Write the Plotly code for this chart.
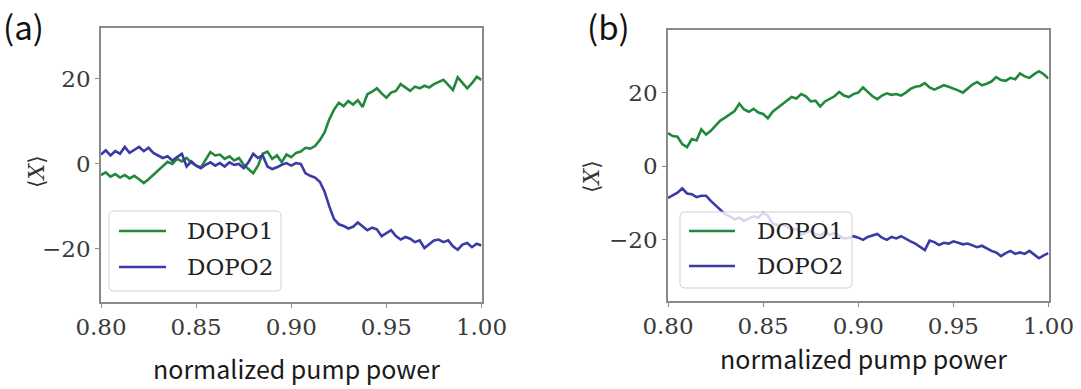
import numpy as np
import plotly.graph_objects as go

# normalized pump power grid shared by all traces
pump = np.round(0.8 + 0.0025 * np.arange(81), 4)

# panel (a): mean quadrature <X> of each DOPO
a_dopo1 = [
    -2.6, -2.0, -3.0, -2.4, -3.2, -2.6, -3.4, -2.8, -3.6, -4.5,
    -3.6, -2.6, -1.6, -0.6, 0.5, 0.0, 1.2, 0.6, 1.4, 0.3,
    -0.4, -0.8, 1.0, 2.8, 2.0, 2.2, 1.2, 1.8, 0.8, 1.4,
    -0.2, -1.2, -2.2, -0.4, 2.4, 2.9, 1.2, 2.0, 0.4, 2.2,
    1.6, 2.6, 2.9, 3.8, 3.6, 4.2, 5.6, 7.4, 10.5, 12.8,
    14.4, 13.6, 14.8, 14.0, 15.0, 13.4, 16.4, 17.0, 17.8, 16.6,
    15.6, 16.8, 17.2, 18.8, 18.0, 17.2, 18.2, 17.8, 18.4, 18.0,
    18.8, 19.4, 19.8, 18.6, 17.4, 20.4, 19.2, 17.8, 19.0, 20.5,
    19.8,
]
a_dopo2 = [
    2.2, 3.2, 2.0, 3.0, 2.4, 4.0, 2.6, 3.4, 4.0, 3.0,
    3.8, 2.6, 2.0, 1.4, 1.8, 0.8, 1.6, 2.4, -0.6, 0.6,
    -0.4, -1.0, -0.2, 0.4, -0.4, 0.2, -0.6, 0.4, -0.2, 0.0,
    -1.0, 0.4, 2.4, 1.4, 2.0, -0.6, -1.2, -0.8, -0.2, 0.2,
    -0.4, 0.2, 0.0, -2.2, -2.8, -3.2, -4.2, -6.5, -10.0, -13.0,
    -14.2, -14.6, -15.2, -14.8, -13.8, -14.6, -15.6, -15.0, -15.4, -17.0,
    -16.2, -15.6, -17.0, -17.8, -17.2, -17.6, -18.4, -18.0, -19.8, -18.8,
    -18.0, -17.8, -18.4, -18.0, -19.4, -20.2, -19.0, -18.6, -19.6, -18.8,
    -19.2,
]

# panel (b)
b_dopo1 = [
    9.0, 8.2, 8.0, 6.0, 5.2, 7.4, 7.0, 10.0, 8.6, 9.6,
    11.0, 12.4, 13.2, 14.2, 15.0, 17.0, 15.4, 14.8, 15.6, 14.6,
    14.2, 13.0, 14.8, 15.8, 16.8, 17.6, 18.8, 18.4, 19.6, 19.0,
    17.6, 17.8, 16.2, 17.6, 18.4, 19.0, 20.2, 19.2, 18.8, 19.6,
    20.0, 21.4, 20.2, 19.0, 18.2, 19.2, 19.8, 19.4, 19.6, 19.2,
    20.0, 21.0, 21.6, 21.8, 22.6, 21.4, 20.8, 21.4, 22.0, 21.6,
    21.2, 20.6, 20.0, 21.0, 22.2, 22.9, 22.0, 22.4, 23.0, 24.2,
    23.4, 23.2, 24.0, 23.6, 25.2, 24.4, 24.0, 25.0, 25.8, 25.0,
    23.8,
]
b_dopo2 = [
    -8.6, -7.8, -7.2, -6.0, -7.4, -7.6, -8.4, -8.0, -8.0, -9.4,
    -10.6, -12.0, -13.0, -13.6, -14.4, -14.0, -14.8, -14.2, -13.6, -14.0,
    -12.6, -13.4, -15.6, -16.0, -15.8, -16.4, -17.2, -17.0, -18.6, -18.0,
    -17.6, -18.4, -18.8, -18.0, -18.6, -18.2, -19.0, -19.6, -19.4, -19.0,
    -19.4, -20.0, -19.2, -18.8, -18.4, -19.4, -20.0, -19.2, -19.6, -19.0,
    -19.8, -20.4, -21.0, -22.0, -22.8, -20.2, -20.6, -21.4, -20.8, -21.0,
    -20.4, -20.8, -21.2, -21.0, -21.6, -22.0, -21.6, -22.4, -23.0, -23.4,
    -24.4, -23.6, -23.0, -23.8, -23.4, -23.8, -23.0, -24.0, -25.0, -24.2,
    -23.6,
]

series_names = ["DOPO1", "DOPO2"]
x_ticks = [0.80, 0.85, 0.90, 0.95, 1.00]
y_ticks = [-20, 0, 20]

GREEN = "#22893c"
BLUE = "#3c3aa6"
SPINE = "#8a8a8a"
W, H = 1081, 389


def px(x):
    return x / W


def py(y):
    return 1 - y / H


fig = go.Figure()
for xa, ya, s1, s2 in [("x", "y", a_dopo1, a_dopo2), ("x2", "y2", b_dopo1, b_dopo2)]:
    fig.add_trace(go.Scatter(x=pump, y=s1, xaxis=xa, yaxis=ya, mode="lines",
                             name=series_names[0], showlegend=False,
                             line=dict(color=GREEN, width=2.6)))
    fig.add_trace(go.Scatter(x=pump, y=s2, xaxis=xa, yaxis=ya, mode="lines",
                             name=series_names[1], showlegend=False,
                             line=dict(color=BLUE, width=2.6)))

tick_font = dict(family="DejaVu Serif", size=23, color="#3a3a3a")
common_x = dict(range=[0.8, 1.0], tickvals=x_ticks, tickformat=".2f", automargin=False,
                showline=True, mirror=True, linecolor=SPINE, linewidth=1.5,
                ticks="outside", ticklen=4, tickwidth=1.2, tickcolor=SPINE,
                showgrid=False, zeroline=False, tickfont=tick_font)
common_y = dict(tickvals=y_ticks, automargin=False,
                showline=True, mirror=True, linecolor=SPINE, linewidth=1.5,
                ticks="outside", ticklen=4, tickwidth=1.2, tickcolor=SPINE,
                showgrid=False, zeroline=False, tickfont=tick_font)

fig.update_layout(
    width=W, height=H,
    margin=dict(l=0, r=0, t=0, b=0),
    paper_bgcolor="white", plot_bgcolor="white",
    xaxis=dict(domain=[px(101), px(481.5)], anchor="y", **common_x),
    yaxis=dict(domain=[py(302), py(28)], anchor="x", range=[-32.5, 32.0], **common_y),
    xaxis2=dict(domain=[px(668), px(1048.5)], anchor="y2", **common_x),
    yaxis2=dict(domain=[py(301), py(30)], anchor="x2", range=[-36.6, 37.0], **common_y),
)

sans = "Noto Sans CJK KR"
annotations = [
    dict(text="(a)", x=px(1), y=1.0, xanchor="left", yanchor="top",
         font=dict(family=sans, size=33, color="#111111")),
    dict(text="(b)", x=px(585), y=1.0, xanchor="left", yanchor="top",
         font=dict(family=sans, size=33, color="#111111")),
    dict(text="normalized pump power", x=px(296), y=py(368), xanchor="center", yanchor="middle",
         font=dict(family=sans, size=25, color="#1a1a1a")),
    dict(text="normalized pump power", x=px(863), y=py(358), xanchor="center", yanchor="middle",
         font=dict(family=sans, size=25, color="#1a1a1a")),
    dict(text="⟨<i>X</i>⟩", x=px(37), y=py(172), xanchor="center", yanchor="middle", textangle=-90,
         font=dict(family="DejaVu Serif", size=22, color="#333333")),
    dict(text="⟨<i>X</i>⟩", x=px(592), y=py(177), xanchor="center", yanchor="middle", textangle=-90,
         font=dict(family="DejaVu Serif", size=22, color="#333333")),
]

shapes = []


def rounded_box(x0, y0, x1, y1, r=5):
    # rounded rectangle path in paper coordinates, from pixel corners
    rx, ry = r / W, r / H
    X0, X1 = px(x0), px(x1)
    Y0, Y1 = py(y1), py(y0)
    return (f"M{X0 + rx},{Y0} L{X1 - rx},{Y0} Q{X1},{Y0} {X1},{Y0 + ry} "
            f"L{X1},{Y1 - ry} Q{X1},{Y1} {X1 - rx},{Y1} L{X0 + rx},{Y1} "
            f"Q{X0},{Y1} {X0},{Y1 - ry} L{X0},{Y0 + ry} Q{X0},{Y0} {X0 + rx},{Y0} Z")


legend_font = dict(family="DejaVu Serif", size=23, color="#222222")
for bx0, by0, bx1, by1, lx0, lx1, tx, rows in [
    (109, 211, 281, 291, 119, 166, 185, (231, 267)),
    (680, 212, 852, 288, 689, 735, 755, (231, 266)),
]:
    shapes.append(dict(type="path", xref="paper", yref="paper", path=rounded_box(bx0, by0, bx1, by1),
                       fillcolor="rgba(255,255,255,0.8)", line=dict(color="#d0d0d0", width=1),
                       layer="above"))
    for name, color, ry in zip(series_names, [GREEN, BLUE], rows):
        shapes.append(dict(type="line", xref="paper", yref="paper",
                           x0=px(lx0), x1=px(lx1), y0=py(ry), y1=py(ry),
                           line=dict(color=color, width=2.4), layer="above"))
        annotations.append(dict(text=name, x=px(tx), y=py(ry), xanchor="left", yanchor="middle",
                                font=legend_font))

for a in annotations:
    a.update(xref="paper", yref="paper", showarrow=False)

fig.update_layout(annotations=annotations, shapes=shapes)
fig.write_html("out.html")
